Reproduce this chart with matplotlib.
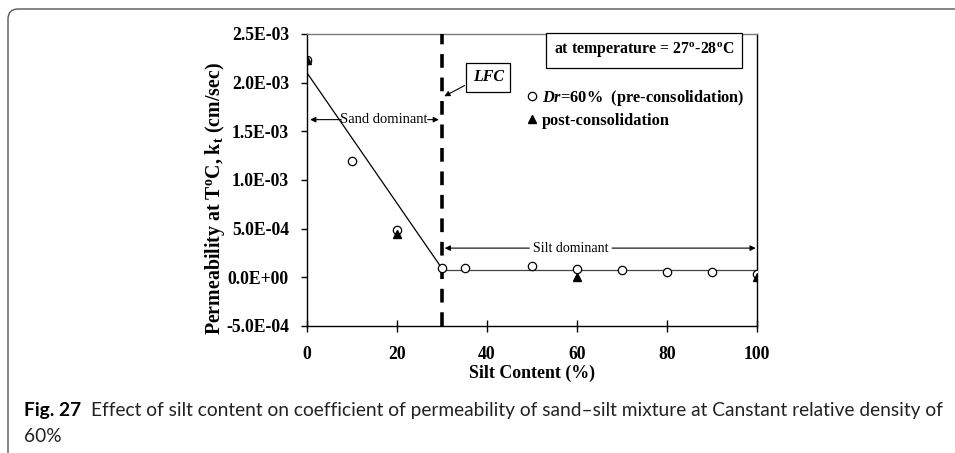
import matplotlib
matplotlib.use("Agg")
import matplotlib.pyplot as plt
from matplotlib.patches import FancyBboxPatch
from matplotlib.transforms import IdentityTransform
from matplotlib.ticker import FuncFormatter, MultipleLocator

# Permeability vs silt content (constant Dr = 60 %)
silt_pre = [0, 10, 20, 30, 35, 50, 60, 70, 80, 90, 100]
k_pre = [2.23e-3, 1.20e-3, 4.9e-4, 1.0e-4, 1.0e-4, 1.2e-4, 8.5e-5, 7.5e-5, 5.0e-5, 5.0e-5, 3.5e-5]

silt_post = [0, 20, 60, 100]
k_post = [2.23e-3, 4.5e-4, 0.0, 0.0]

# trend lines either side of the limiting fines content
sand_fit_x = [0, 30]
sand_fit_y = [2.1e-3, 9.0e-5]
silt_fit_x = [30, 100]
silt_fit_y = [7.0e-5, 7.0e-5]
lfc = 30

serif = 'Liberation Serif'
plt.rcParams['font.family'] = serif
plt.rcParams['mathtext.fontset'] = 'custom'
plt.rcParams['mathtext.rm'] = serif
plt.rcParams['mathtext.it'] = serif + ':italic'
plt.rcParams['mathtext.bf'] = serif + ':bold'
plt.rcParams['mathtext.bfit'] = serif + ':italic:bold'

fig = plt.figure(figsize=(9.55, 4.53), dpi=100)
ax = fig.add_axes([0.3215, 0.2804, 0.4712, 0.6446])

ax.plot(sand_fit_x, sand_fit_y, color='black', lw=0.9, zorder=2)
ax.plot(silt_fit_x, silt_fit_y, color='#444444', lw=0.9, zorder=2)
ax.axvline(lfc, color='black', lw=2.6, dashes=(3.8, 2.7), zorder=3)

pre, = ax.plot(silt_pre, k_pre, 'o', ms=6, mfc='white', mec='black', mew=0.9,
               label=r'$\mathbfit{Dr}$=60%  (pre-consolidation)', zorder=4)
post, = ax.plot(silt_post, k_post, '^', ms=5.5, color='black',
                label='post-consolidation', zorder=5)

ax.set_xlim(0, 100)
ax.set_ylim(-5e-4, 2.5e-3)
ax.xaxis.set_major_locator(MultipleLocator(20))
ax.yaxis.set_major_locator(MultipleLocator(5e-4))
ax.yaxis.set_major_formatter(FuncFormatter(lambda v, p: f'{v:.1E}'))
ax.tick_params(axis='x', direction='inout', length=9, width=1, pad=10,
               labelsize=12.7)
ax.tick_params(axis='y', direction='out', length=4, width=1, pad=9,
               labelsize=12.7)
for lab in ax.get_xticklabels() + ax.get_yticklabels():
    lab.set_fontweight('bold')

for side in ['left', 'bottom', 'right']:
    ax.spines[side].set_color('black')
    ax.spines[side].set_linewidth(1)
ax.spines['top'].set_color('#7a7a7a')
ax.spines['top'].set_linewidth(1)

ax.set_xlabel('Silt Content (%)', fontsize=12.9, fontweight='bold')
ax.xaxis.set_label_coords(0.5, -0.134)
ax.set_ylabel(r'Permeability at T$^{\mathbf{o}}$C, k$_{\mathbf{t}}$ (cm/sec)',
              fontsize=14.3, fontweight='bold', va='center')
ax.yaxis.set_label_coords(-0.204, 0.435)

# range arrows
arr = dict(arrowstyle='-|>', color='black', lw=0.8, mutation_scale=8,
           shrinkA=0, shrinkB=0)
ax.text(17, 1.62e-3, 'Sand dominant', fontsize=10.5, ha='center', va='center')
ax.annotate('', xy=(0.7, 1.62e-3), xytext=(7.6, 1.62e-3), arrowprops=arr)
ax.annotate('', xy=(29.3, 1.62e-3), xytext=(26.8, 1.62e-3), arrowprops=arr)
ax.text(58.6, 3.0e-4, 'Silt dominant', fontsize=10, ha='center', va='center')
ax.annotate('', xy=(30.6, 3.0e-4), xytext=(49.4, 3.0e-4), arrowprops=arr)
ax.annotate('', xy=(99.7, 3.0e-4), xytext=(67.8, 3.0e-4), arrowprops=arr)

# LFC label
ax.text(40.3, 2.055e-3, 'LFC', fontsize=11.5, fontstyle='italic',
        fontweight='bold', ha='center', va='center',
        bbox=dict(boxstyle='square,pad=0.4', fc='white', ec='black', lw=0.9))
ax.annotate('', xy=(30.5, 1.86e-3), xytext=(35.0, 1.97e-3),
            arrowprops=dict(arrowstyle='-|>', color='black', lw=0.8,
                            mutation_scale=8, shrinkA=0, shrinkB=0))

ax.text(74.9, 2.335e-3, r'at temperature = 27$^{\mathbf{o}}$-28$^{\mathbf{o}}$C',
        fontsize=11.4, fontweight='bold', ha='center', va='center',
        bbox=dict(boxstyle='square,pad=0.5', fc='white', ec='black', lw=0.9))

leg = ax.legend(handles=[pre, post], loc='upper left',
                bbox_to_anchor=(0.489, 0.815), frameon=False, fontsize=11.8,
                handlelength=0.6, handletextpad=0.3, borderpad=0,
                labelspacing=0.28, borderaxespad=0)
for t in leg.get_texts():
    t.set_fontweight('bold')

# caption and panel border
cap_font = ['Lato', 'DejaVu Sans']
t1 = fig.text(24 / 955, 1 - 416 / 453, 'Fig. 27', fontsize=13.75,
              fontweight='bold', family=cap_font, va='baseline')
ax.annotate('Effect of silt content on coefficient of permeability of sand\u2013silt '
            'mixture at Canstant relative density of',
            xy=(1, 0), xycoords=t1, xytext=(7, 0), textcoords='offset points',
            fontsize=13.75, family=cap_font, va='bottom', color='#222222',
            annotation_clip=False)
fig.text(24 / 955, 1 - 442 / 453, '60%', fontsize=13.75, family=cap_font,
         va='baseline', color='#222222')

border = FancyBboxPatch((8, -30), 1100, 474, boxstyle='round,pad=0,rounding_size=10',
                        transform=IdentityTransform(), fc='none', ec='#555555', lw=1)
fig.patches.append(border)

fig.savefig('out.png', dpi=100)
